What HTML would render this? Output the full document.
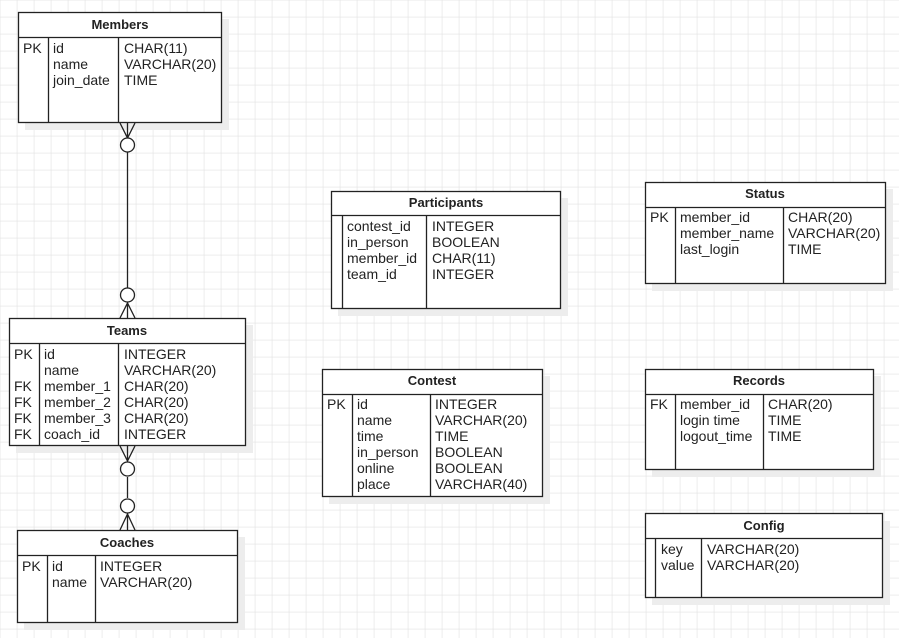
<!DOCTYPE html>
<html><head><meta charset="utf-8"><style>
html,body{margin:0;padding:0;background:#fff}
svg{display:block}
text{font-family:"Liberation Sans",Arial,sans-serif;font-size:14px;fill:#222}
.h{font-weight:bold;font-size:13px;text-anchor:middle}
</style></head><body>
<svg width="899" height="638" viewBox="0 0 899 638" xmlns="http://www.w3.org/2000/svg">
<defs>
<pattern id="g" width="17" height="17" patternUnits="userSpaceOnUse" x="0.3" y="0.3">
<path d="M17 0V17H0" fill="none" stroke="#dcdcdc" stroke-width="1"/>
</pattern>
</defs>
<rect width="899" height="638" fill="url(#g)"/>
<g fill="#ededed">
<rect x="25" y="19" width="204" height="111"/>
<rect x="16" y="325" width="237" height="128"/>
<rect x="24" y="537" width="221" height="93"/>
<rect x="338" y="198" width="230" height="118"/>
<rect x="652" y="189" width="241" height="102"/>
<rect x="329" y="376" width="221" height="128"/>
<rect x="652" y="376" width="229" height="101"/>
<rect x="652" y="521" width="238" height="84"/>
</g>
<g fill="#fff" stroke="#222" stroke-width="1.3">
<rect x="18.5" y="12.5" width="203" height="110"/><path d="M18.5 37.5H221.5M48.5 37.5V122.5M118.5 37.5V122.5"/>
<rect x="9.5" y="318.5" width="236" height="127"/><path d="M9.5 343.5H245.5M39.5 343.5V445.5M118.5 343.5V445.5"/>
<rect x="17.5" y="530.5" width="220" height="92"/><path d="M17.5 555.5H237.5M47.5 555.5V622.5M95.5 555.5V622.5"/>
<rect x="331.5" y="191.5" width="229" height="117"/><path d="M331.5 215.5H560.5M342.5 215.5V308.5M426.5 215.5V308.5"/>
<rect x="645.5" y="182.5" width="240" height="101"/><path d="M645.5 207.5H885.5M675.5 207.5V283.5M783.5 207.5V283.5"/>
<rect x="322.5" y="369.5" width="220" height="127"/><path d="M322.5 394.5H542.5M352.5 394.5V496.5M430.5 394.5V496.5"/>
<rect x="645.5" y="369.5" width="228" height="100"/><path d="M645.5 394.5H873.5M675.5 394.5V469.5M763.5 394.5V469.5"/>
<rect x="645.5" y="513.5" width="237" height="84"/><path d="M645.5 538.5H882.5M655.5 538.5V597.5M701.5 538.5V597.5"/>
</g>
<g fill="#fff" stroke="#222" stroke-width="1.3">
<path d="M127.5 152V288M127.5 477V498" fill="none"/>
<path d="M120 123L127.5 138L135 123M127.5 123V138" fill="none"/>
<circle cx="127.5" cy="145" r="7"/>
<path d="M120 318L127.5 303L135 318M127.5 318V303" fill="none"/>
<circle cx="127.5" cy="295" r="7"/>
<path d="M120 446L127.5 461L135 446M127.5 446V461" fill="none"/>
<circle cx="127.5" cy="469" r="7"/>
<path d="M120 530L127.5 514L135 530M127.5 530V514" fill="none"/>
<circle cx="127.5" cy="506" r="7"/>
</g>
<text class="h" x="120" y="29">Members</text>
<text x="23" y="53">PK</text>
<text x="53" y="53">id</text><text x="53" y="69">name</text><text x="53" y="85">join_date</text>
<text x="124" y="53">CHAR(11)</text><text x="124" y="69">VARCHAR(20)</text><text x="124" y="85">TIME</text>
<text class="h" x="127" y="335">Teams</text>
<text x="14" y="359">PK</text><text x="14" y="391">FK</text><text x="14" y="407">FK</text><text x="14" y="423">FK</text><text x="14" y="439">FK</text>
<text x="44" y="359">id</text><text x="44" y="375">name</text><text x="44" y="391">member_1</text><text x="44" y="407">member_2</text><text x="44" y="423">member_3</text><text x="44" y="439">coach_id</text>
<text x="124" y="359">INTEGER</text><text x="124" y="375">VARCHAR(20)</text><text x="124" y="391">CHAR(20)</text><text x="124" y="407">CHAR(20)</text><text x="124" y="423">CHAR(20)</text><text x="124" y="439">INTEGER</text>
<text class="h" x="127" y="547">Coaches</text>
<text x="22" y="571">PK</text>
<text x="52" y="571">id</text><text x="52" y="587">name</text>
<text x="100" y="571">INTEGER</text><text x="100" y="587">VARCHAR(20)</text>
<text class="h" x="446" y="207">Participants</text>
<text x="347" y="231">contest_id</text><text x="347" y="247">in_person</text><text x="347" y="263">member_id</text><text x="347" y="279">team_id</text>
<text x="432" y="231">INTEGER</text><text x="432" y="247">BOOLEAN</text><text x="432" y="263">CHAR(11)</text><text x="432" y="279">INTEGER</text>
<text class="h" x="765" y="198">Status</text>
<text x="650" y="222">PK</text>
<text x="680" y="222">member_id</text><text x="680" y="238">member_name</text><text x="680" y="254">last_login</text>
<text x="788" y="222">CHAR(20)</text><text x="788" y="238">VARCHAR(20)</text><text x="788" y="254">TIME</text>
<text class="h" x="432" y="385">Contest</text>
<text x="327" y="409">PK</text>
<text x="357" y="409">id</text><text x="357" y="425">name</text><text x="357" y="441">time</text><text x="357" y="457">in_person</text><text x="357" y="473">online</text><text x="357" y="489">place</text>
<text x="435" y="409">INTEGER</text><text x="435" y="425">VARCHAR(20)</text><text x="435" y="441">TIME</text><text x="435" y="457">BOOLEAN</text><text x="435" y="473">BOOLEAN</text><text x="435" y="489">VARCHAR(40)</text>
<text class="h" x="759" y="385">Records</text>
<text x="650" y="409">FK</text>
<text x="680" y="409">member_id</text><text x="680" y="425">login time</text><text x="680" y="441">logout_time</text>
<text x="768" y="409">CHAR(20)</text><text x="768" y="425">TIME</text><text x="768" y="441">TIME</text>
<text class="h" x="764" y="530">Config</text>
<text x="661" y="554">key</text><text x="661" y="570">value</text>
<text x="707" y="554">VARCHAR(20)</text><text x="707" y="570">VARCHAR(20)</text>
</svg>
</body></html>
